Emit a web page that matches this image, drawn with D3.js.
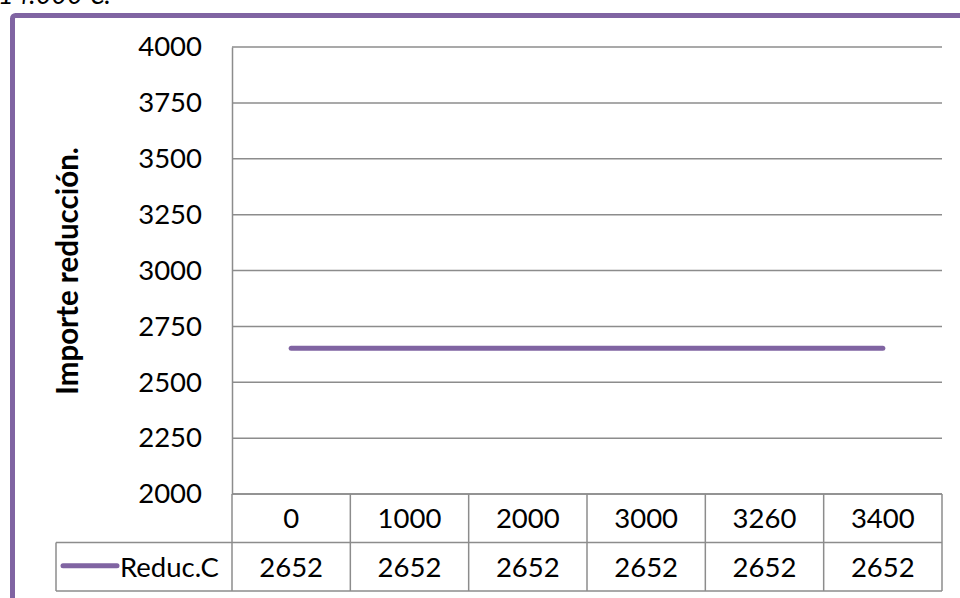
<!DOCTYPE html>
<html>
<head>
<meta charset="utf-8">
<script src="https://cdn.jsdelivr.net/npm/d3@7"></script>
<style>
  body { margin: 0; background: #fff; }
  svg { display: block; font-family: Lato, "Noto Sans", sans-serif; }
</style>
</head>
<body>
<div id="chart"></div>
<script>
var categories = ["0", "1000", "2000", "3000", "3260", "3400"];
var reducValues = [2652, 2652, 2652, 2652, 2652, 2652];
var yTicks = [2000, 2250, 2500, 2750, 3000, 3250, 3500, 3750, 4000];
var seriesName = "Reduc.C";
var yTitle = "Importe reducción.";
var topNote = "14.000 €.";

var w = 960, h = 598;
var purple = "#8064a2", grid = "#8c8c8c";
var fs = 27.5;

var plot = { left: 232, right: 942, top: 47, bottom: 494 };
var rowH = 48.5;

var svg = d3.select("#chart").append("svg")
    .attr("width", w)
    .attr("height", h);

// note above the frame, mostly off the page like in the original
svg.append("text")
    .attr("x", -2)
    .attr("y", 4)
    .attr("font-size", 27)
    .attr("font-style", "italic")
    .text(topNote);

// outer frame, runs off the page at right and bottom
svg.append("rect")
    .attr("x", 12.5)
    .attr("y", 15.5)
    .attr("width", w + 20)
    .attr("height", h + 20)
    .attr("rx", 3)
    .attr("fill", "none")
    .attr("stroke", purple)
    .attr("stroke-width", 5);

var yScale = d3.scaleLinear()
    .domain([2000, 4000])
    .range([plot.bottom, plot.top]);

var xScale = d3.scaleBand()
    .domain(categories)
    .range([plot.left, plot.right]);

// gridlines
svg.append("g")
    .selectAll("line")
    .data(yTicks)
    .enter().append("line")
    .attr("x1", plot.left)
    .attr("x2", plot.right)
    .attr("y1", function (d) { return yScale(d); })
    .attr("y2", function (d) { return yScale(d); })
    .attr("stroke", grid)
    .attr("stroke-width", 1.5);

// y axis
var yAxis = d3.axisLeft(yScale)
    .tickValues(yTicks)
    .tickSize(0)
    .tickPadding(30)
    .tickFormat(d3.format("d"));

var yg = svg.append("g")
    .attr("transform", "translate(" + plot.left + ",0)")
    .call(yAxis);
yg.select(".domain").attr("stroke", grid).attr("stroke-width", 1.5);
yg.selectAll("text")
    .attr("font-size", fs)
    .attr("fill", "#000")
    .attr("font-family", "Lato, sans-serif");

// y title
svg.append("text")
    .attr("transform", "translate(78,271) rotate(-90)")
    .attr("text-anchor", "middle")
    .attr("font-size", 29.5)
    .attr("font-weight", "bold")
    .text(yTitle);

// data table
var tableTop = plot.bottom;
var legendLeft = 56;

var table = svg.append("g")
    .attr("stroke", grid)
    .attr("stroke-width", 1.5)
    .attr("fill", "none");

// horizontal rules
table.append("line")
    .attr("x1", plot.left).attr("x2", plot.right)
    .attr("y1", tableTop).attr("y2", tableTop);
table.append("line")
    .attr("x1", legendLeft).attr("x2", plot.right)
    .attr("y1", tableTop + rowH).attr("y2", tableTop + rowH);
table.append("line")
    .attr("x1", legendLeft).attr("x2", plot.right)
    .attr("y1", tableTop + 2 * rowH).attr("y2", tableTop + 2 * rowH);

// vertical rules
var edges = categories.map(function (c) { return xScale(c); }).concat([plot.right]);
table.selectAll(".vrule")
    .data(edges)
    .enter().append("line")
    .attr("class", "vrule")
    .attr("x1", function (d) { return d; })
    .attr("x2", function (d) { return d; })
    .attr("y1", tableTop)
    .attr("y2", tableTop + 2 * rowH);
table.append("line")
    .attr("x1", legendLeft).attr("x2", legendLeft)
    .attr("y1", tableTop + rowH).attr("y2", tableTop + 2 * rowH);

// category labels
svg.append("g")
    .selectAll("text")
    .data(categories)
    .enter().append("text")
    .attr("x", function (d) { return xScale(d) + xScale.bandwidth() / 2; })
    .attr("y", tableTop + rowH / 2 + 10)
    .attr("text-anchor", "middle")
    .attr("font-size", fs)
    .text(function (d) { return d; });

// value row
svg.append("g")
    .selectAll("text")
    .data(reducValues)
    .enter().append("text")
    .attr("x", function (d, i) { return xScale(categories[i]) + xScale.bandwidth() / 2; })
    .attr("y", tableTop + rowH * 1.5 + 10)
    .attr("text-anchor", "middle")
    .attr("font-size", fs)
    .text(function (d) { return d; });

// legend key in table
svg.append("line")
    .attr("x1", 63)
    .attr("x2", 117)
    .attr("y1", tableTop + rowH * 1.5 - 1)
    .attr("y2", tableTop + rowH * 1.5 - 1)
    .attr("stroke", purple)
    .attr("stroke-width", 5)
    .attr("stroke-linecap", "round");
svg.append("text")
    .attr("x", 120)
    .attr("y", tableTop + rowH * 1.5 + 10)
    .attr("font-size", fs)
    .text(seriesName);

// series line
var line = d3.line()
    .x(function (d, i) { return xScale(categories[i]) + xScale.bandwidth() / 2; })
    .y(function (d) { return yScale(d); });

svg.append("path")
    .datum(reducValues)
    .attr("d", line)
    .attr("fill", "none")
    .attr("stroke", purple)
    .attr("stroke-width", 5)
    .attr("stroke-linecap", "round");
</script>
</body>
</html>
